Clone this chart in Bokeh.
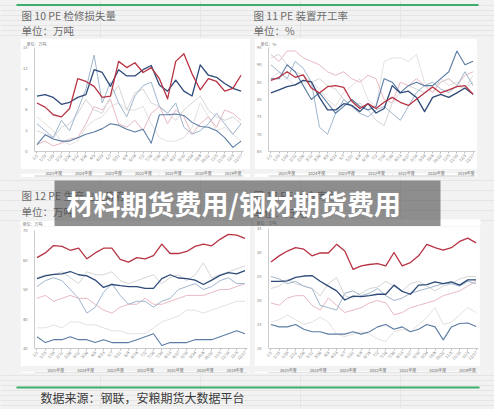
from math import pi
from bokeh.plotting import figure
from bokeh.layouts import column, row
from bokeh.models import (Range1d, Label, BoxAnnotation, Legend, LegendItem,
                          FixedTicker, Spacer)
from bokeh.embed import file_html
from bokeh.resources import INLINE

BG = "#f2f2f2"
GREEN = "#3dae6b"
FONT = "Noto Sans CJK SC"

# ---------------- data ----------------
X_LABELS = ["1/1", "1/15", "1/29", "2/12", "2/26", "3/12", "3/26", "4/9", "4/23",
            "5/7", "5/21", "6/4", "6/18", "7/2", "7/16", "7/30", "8/13", "8/27",
            "9/10", "9/24", "10/8", "10/22", "11/5", "11/19", "12/3", "12/17"]
YEARS = ["2025年度", "2024年度", "2023年度", "2022年度", "2021年度", "2020年度", "2019年度"]
COLORS = ["#b83343", "#2d4a78", "#d6d6d6", "#9fb5cd", "#e9b9c2", "#e6e0e0", "#5a7ca4"]
WIDTHS = [1.3, 1.3, 1.0, 1.0, 1.0, 1.0, 1.1]
DRAW_ORDER = [5, 4, 2, 3, 6, 1, 0]

# 图10 PE 检修损失量 (万吨)
C1_2025 = [7.0, 6.4, 5.3, 5.0, 6.2, 10.5, 10.1, 9.4, 7.8, 8.0, 13.0, 12.1, 12.8, 11.4, 12.1, 10.5, 7.6, 13.0, 14.1, 11.2, 8.9, 10.5, 10.1, 8.7, 9.1, 11.0]
C1_2024 = [8.0, 8.2, 7.8, 6.8, 7.1, 7.8, 8.2, 11.8, 11.4, 9.4, 11.8, 10.9, 10.9, 11.8, 12.4, 9.6, 8.7, 10.3, 8.7, 8.0, 12.5, 11.0, 10.7, 9.8, 9.1, 8.7]
C1_2023 = [3.0, 2.5, 2.0, 3.5, 4.0, 5.5, 7.5, 6.0, 5.5, 8.0, 9.5, 6.0, 8.5, 9.0, 7.0, 6.5, 5.5, 4.5, 6.0, 7.0, 8.0, 6.0, 5.0, 4.5, 5.0, 4.0]
C1_2022 = [4.0, 3.0, 2.0, 4.5, 3.0, 6.0, 9.0, 13.9, 7.0, 10.0, 7.0, 5.0, 8.0, 9.5, 10.0, 6.5, 5.5, 7.0, 3.5, 2.5, 3.0, 4.0, 5.5, 4.0, 2.5, 4.0]
C1_2021 = [1.0, 1.5, 0.8, 1.2, 1.8, 2.0, 4.0, 6.5, 6.0, 7.5, 4.0, 3.5, 4.5, 3.0, 5.5, 6.5, 4.0, 6.0, 5.0, 2.5, 4.0, 5.0, 3.5, 6.0, 5.5, 4.5]
C1_2020 = [5.0, 4.0, 3.0, 1.5, 1.0, 1.5, 3.5, 4.5, 5.0, 6.5, 7.0, 6.0, 6.0, 6.5, 4.0, 2.0, 1.5, 1.5, 2.0, 3.5, 7.0, 5.0, 3.0, 3.5, 2.5, 1.5]
C1_2019 = [1.0, 2.4, 1.8, 1.5, 1.5, 2.0, 2.5, 2.8, 3.3, 4.0, 3.8, 3.2, 2.8, 3.2, 1.2, 5.3, 5.3, 5.4, 5.2, 4.2, 3.6, 3.5, 3.0, 2.0, 0.6, 1.5]
C1_YTICKS = [0, 3, 6, 9, 12, 15]

# 图11 PE 装置开工率 (%)
C2_2025 = [85.5, 86.4, 88.0, 86.4, 87.1, 83.3, 81.9, 83.7, 84.0, 83.5, 79.5, 77.4, 78.8, 77.4, 79.2, 80.6, 79.2, 78.3, 80.1, 81.9, 83.6, 81.9, 82.8, 83.7, 84.0, 81.5]
C2_2024 = [81.9, 82.8, 83.7, 84.2, 85.5, 85.1, 80.6, 77.0, 77.0, 78.8, 78.3, 76.5, 78.8, 76.1, 77.4, 84.0, 81.9, 82.4, 80.6, 76.5, 80.6, 81.5, 80.6, 81.9, 83.3, 81.5]
C2_2023 = [92, 93, 90, 88, 87, 85, 86, 84, 83, 80, 78, 79, 77, 74, 72.5, 79, 82, 84, 83, 82, 84, 85, 86, 84, 83, 85]
C2_2022 = [90, 88, 86, 91, 89, 85, 72, 70, 76, 80, 78, 76, 75, 77, 78, 76, 74, 78, 82, 84, 85, 83, 82, 84, 88, 84]
C2_2021 = [93, 91, 94, 94, 92, 91, 90, 88, 87, 88, 86, 85, 87, 86, 80, 79, 85, 84, 86, 84, 82, 85, 86, 84, 87, 88]
C2_2020 = [86, 88, 86, 84, 85, 85, 83, 80, 78, 82, 84, 86, 80, 78, 91, 92, 92, 91, 93, 85, 82, 86, 84, 85, 83, 87]
C2_2019 = [86, 86, 90, 88, 84, 80, 82, 79, 76, 78, 80, 78, 77, 78, 86, 85, 82, 84, 85, 84, 84, 86, 88, 94, 90, 91]
C2_YTICKS = [65, 70, 75, 80, 85, 90, 95]

# 图12 (万吨)
C3_2025 = [60.8, 62.4, 64.9, 64.6, 63.3, 64.0, 60.4, 62.4, 64.0, 64.0, 60.2, 59.3, 60.8, 60.4, 61.5, 65.4, 62.2, 62.2, 62.9, 64.6, 65.4, 64.8, 67.0, 68.7, 68.4, 67.3]
C3_2024 = [53.7, 54.6, 55.1, 55.3, 56.1, 55.0, 54.6, 53.2, 50.7, 51.7, 51.3, 51.0, 51.0, 50.4, 50.4, 53.7, 55.0, 53.9, 53.7, 53.2, 51.7, 53.2, 54.8, 55.7, 55.3, 56.4]
C3_2023 = [54, 55, 55, 56, 54, 52, 56, 55, 55, 56, 53, 52, 53, 54, 55, 52, 54, 55, 53, 55, 59, 54, 55, 56, 57, 58]
C3_2022 = [51, 53, 54, 53, 50, 47, 42, 44, 49, 52, 48, 45, 46, 46, 44, 46, 47, 50, 51, 52, 50, 51, 53, 54, 52, 52]
C3_2021 = [47, 48, 46, 47, 48, 47, 47, 45, 43, 42, 44, 45, 45, 47, 45, 45, 46, 47, 48, 48, 48, 49, 50, 50, 51, 52]
C3_2020 = [37, 37, 38, 37, 39, 39, 38, 38, 37, 36, 36, 35, 35, 35, 37, 39, 40, 41, 43, 43, 42, 43, 44, 45, 46, 46]
C3_2019 = [34, 32, 33, 33, 34, 33, 33, 32, 33, 32, 32, 32, 33, 34, 35, 31, 32, 32, 32, 33, 33, 33, 34, 35, 36, 35]
C3_YTICKS = [30, 40, 50, 60, 70]

# 图13 (万吨)
C4_2025 = [28.0, 29.3, 30.3, 31.0, 30.7, 29.3, 29.9, 29.9, 31.7, 30.3, 26.5, 27.2, 27.5, 27.7, 27.2, 30.0, 27.2, 27.9, 29.3, 31.7, 31.0, 30.5, 31.0, 32.3, 33.0, 32.0]
C4_2024 = [24.0, 24.0, 24.1, 24.8, 25.1, 25.2, 24.0, 23.0, 22.0, 20.1, 20.9, 20.8, 21.0, 21.3, 21.3, 23.2, 21.9, 21.3, 23.2, 23.3, 23.9, 23.5, 23.9, 23.2, 24.3, 24.3]
C4_2023 = [22.5, 23.0, 24.5, 23.5, 23.0, 22.5, 21.0, 23.5, 24.8, 21.0, 20.5, 21.5, 22.5, 22.8, 24.0, 23.0, 22.0, 23.5, 24.0, 23.0, 22.0, 23.0, 23.5, 24.5, 25.0, 25.0]
C4_2022 = [25.0, 24.5, 23.5, 24.0, 23.0, 22.5, 19.0, 18.5, 18.0, 21.5, 22.0, 21.0, 21.5, 22.5, 21.0, 20.0, 20.5, 21.5, 22.0, 22.5, 23.0, 23.5, 23.5, 23.0, 24.0, 23.5]
C4_2021 = [19.5, 19.0, 20.5, 21.0, 21.0, 19.0, 18.0, 20.5, 19.0, 17.5, 18.0, 18.5, 19.5, 20.0, 19.5, 17.0, 17.5, 18.5, 19.0, 19.5, 20.0, 21.0, 21.5, 22.0, 23.0, 24.0]
C4_2020 = [15.5, 16.0, 17.0, 16.0, 15.0, 15.5, 16.5, 15.5, 13.0, 12.5, 13.0, 13.5, 13.0, 12.0, 11.5, 13.5, 14.0, 13.5, 15.0, 16.5, 18.5, 15.0, 15.5, 17.0, 18.5, 17.5]
C4_2019 = [15.0, 14.5, 14.5, 15.0, 14.0, 13.5, 13.5, 13.0, 13.0, 13.0, 13.5, 13.0, 13.5, 14.5, 15.0, 14.0, 14.5, 13.5, 14.0, 15.0, 14.5, 11.8, 14.5, 15.2, 15.3, 14.6]
C4_YTICKS = [10, 15, 20, 25, 30, 35]

TITLES = ["图 10 PE 检修损失量", "图 11 PE 装置开工率", "图 12 PE 生产企业库存", "图 13 PE 社会库存"]
UNITS = ["单位：万吨", "单位：%", "单位：万吨", "单位：万吨"]
BANNER = "材料期货费用/钢材期货费用"
SOURCE = "数据来源：钢联，安粮期货大数据平台"


# ---------------- helpers ----------------
def band(y0, y1):
    p = figure(width=494, height=y1 - y0, x_range=Range1d(0, 494), y_range=Range1d(y1, y0),
               toolbar_location=None, output_backend="svg", x_axis_location=None,
               y_axis_location=None, min_border=0, border_fill_color=BG,
               background_fill_color=BG, outline_line_color=None)
    return p


def txt(p, x, y, s, size, color, bold=False):
    p.add_layout(Label(x=x, y=y, text=s, text_font=FONT, text_font_size=size,
                       text_color=color, text_baseline="middle", text_align="left",
                       text_font_style="bold" if bold else "normal"))


def box(p, l, r, t, b, color, alpha=1.0):
    p.add_layout(BoxAnnotation(left=l, right=r, top=t, bottom=b, fill_color=color,
                               fill_alpha=alpha, line_color=None))


def legend_strip(w, h):
    """A thin white strip carrying the horizontal legend under a chart."""
    p = figure(width=w, height=h, x_range=Range1d(0, 1), y_range=Range1d(0, 1),
               toolbar_location=None, output_backend="svg", x_axis_location=None,
               y_axis_location=None, min_border=0, border_fill_color="white",
               background_fill_color="white", outline_line_color=None)
    items = []
    for i in range(len(YEARS)):
        r = p.line(x=[], y=[], line_color=COLORS[i], line_width=WIDTHS[i] + 0.3)
        items.append(LegendItem(label=YEARS[i], renderers=[r]))
    p.add_layout(Legend(items=items, orientation="horizontal", location="center",
                        label_text_font=FONT, label_text_font_size="4px",
                        label_text_color="#666666", glyph_width=8, glyph_height=4,
                        label_width=12, label_height=4, label_standoff=2, spacing=3,
                        padding=0, margin=0, border_line_color=None,
                        background_fill_alpha=0))
    return p


def chart(w, h, yticks, series, borders, unit=None):
    left, right, top, bottom = borders
    p = figure(width=w, height=h, x_range=Range1d(-0.3, len(X_LABELS) - 0.7),
               y_range=Range1d(yticks[0], yticks[-1]), toolbar_location=None,
               output_backend="svg", min_border_left=left, min_border_right=right,
               min_border_top=top, min_border_bottom=bottom,
               border_fill_color="white", background_fill_color="white",
               outline_line_color=None)
    p.grid.visible = False
    xs = list(range(len(X_LABELS)))
    for i in DRAW_ORDER:
        p.line(xs, series[i], line_color=COLORS[i], line_width=WIDTHS[i], line_join="round")
    for ax in (p.xaxis[0], p.yaxis[0]):
        ax.axis_line_color = "#bfbfbf"
        ax.axis_line_width = 0.8
        ax.minor_tick_line_color = None
        ax.major_label_text_font = FONT
        ax.major_label_text_font_size = "4px"
        ax.major_label_text_color = "#777777"
        ax.major_label_standoff = 1
    p.yaxis[0].ticker = FixedTicker(ticks=yticks)
    p.yaxis[0].major_tick_line_color = None
    p.xaxis[0].ticker = FixedTicker(ticks=xs)
    p.xaxis[0].major_label_overrides = {i: s for i, s in enumerate(X_LABELS)}
    p.xaxis[0].major_label_orientation = pi / 4
    p.xaxis[0].major_tick_line_color = "#bfbfbf"
    p.xaxis[0].major_tick_out = 2
    p.xaxis[0].major_tick_in = 0
    if unit:
        p.title.text = unit
        p.title.text_font = FONT
        p.title.text_font_size = "4px"
        p.title.text_font_style = "normal"
        p.title.text_color = "#777777"
        p.title.align = "left"
        p.title.offset = -8
        p.title.standoff = 1
    return p


# ---------------- page ----------------
head1 = band(0, 38)
box(head1, 16, 478, 3.5, 5.5, GREEN)
txt(head1, 21, 15, TITLES[0], "10.5px", "#6b6b6b")
txt(head1, 21, 30, UNITS[0], "10.5px", "#6b6b6b")
txt(head1, 253, 15, TITLES[1], "10.5px", "#6b6b6b")
txt(head1, 253, 30, UNITS[1], "10.5px", "#6b6b6b")

fig1 = chart(230, 131, C1_YTICKS,
             [C1_2025, C1_2024, C1_2023, C1_2022, C1_2021, C1_2020, C1_2019],
             (10, 7, 9, 11), UNITS[0])
fig2 = chart(223, 131, C2_YTICKS,
             [C2_2025, C2_2024, C2_2023, C2_2022, C2_2021, C2_2020, C2_2019],
             (12, 2, 9, 11), UNITS[1])
panel1 = column(fig1, legend_strip(230, 8))
panel2 = column(fig2, legend_strip(223, 8))

head2 = band(177, 226)
box(head2, 20, 250, 220, 226, "white")
box(head2, 254, 480, 219, 226, "white")
txt(head2, 21, 195, TITLES[2], "10.5px", "#6b6b6b")
txt(head2, 21, 211, UNITS[2], "10.5px", "#6b6b6b")
txt(head2, 253, 195, TITLES[3], "10.5px", "#6b6b6b")
txt(head2, 253, 212, UNITS[3], "10.5px", "#6b6b6b")
txt(head2, 22, 223, UNITS[2], "4px", "#777777")
txt(head2, 256, 222.5, UNITS[3], "4px", "#777777")
box(head2, 54, 440, 180, 226, "#4f4f4f", 0.62)
txt(head2, 66, 203, BANNER, "27px", "white", bold=True)

fig3 = chart(230, 140, C3_YTICKS,
             [C3_2025, C3_2024, C3_2023, C3_2022, C3_2021, C3_2020, C3_2019],
             (10, 3, 4, 13))
fig4 = chart(226, 140, C4_YTICKS,
             [C4_2025, C4_2024, C4_2023, C4_2022, C4_2021, C4_2020, C4_2019],
             (8, 2, 2, 13))
panel3 = column(fig3, legend_strip(230, 7))
panel4 = column(fig4, legend_strip(226, 7))

foot = band(373, 409)
box(foot, 16, 479, 386, 388, GREEN)
txt(foot, 40, 397, SOURCE, "12px", "#3a3a3a")

row1 = row(Spacer(width=20, height=139), panel1, Spacer(width=4, height=139), panel2,
           Spacer(width=17, height=139), styles={"background-color": BG})
row2 = row(Spacer(width=20, height=147), panel3, Spacer(width=4, height=147), panel4,
           Spacer(width=14, height=147), styles={"background-color": BG})

page = column(head1, row1, head2, row2, foot, styles={"background-color": BG})

open("out.html", "w").write(file_html(page, INLINE))
